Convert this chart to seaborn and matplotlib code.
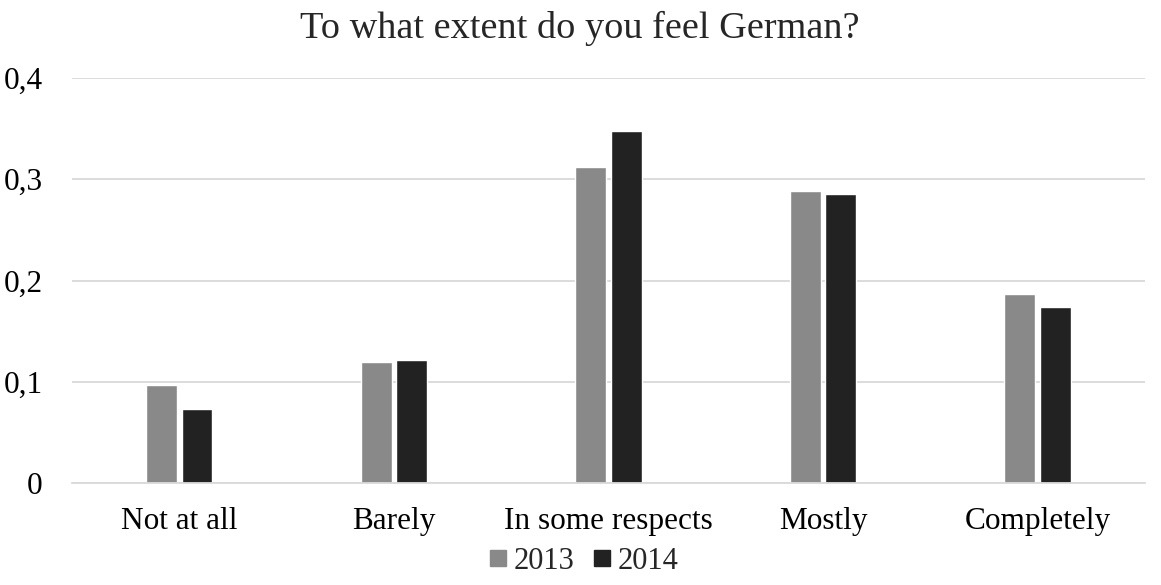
import matplotlib
matplotlib.use("Agg")
import matplotlib.pyplot as plt
import pandas as pd
import seaborn as sns

# data
categories = ["Not at all", "Barely", "In some respects", "Mostly", "Completely"]
years = ["2013", "2014"]
values_2013 = [0.0967, 0.1196, 0.312, 0.288, 0.1866]
values_2014 = [0.0733, 0.1217, 0.3478, 0.2853, 0.174]
yticks = [0, 0.1, 0.2, 0.3, 0.4]
ytick_labels = ["0", "0,1", "0,2", "0,3", "0,4"]

df = pd.DataFrame({
    "category": categories * 2,
    "year": [years[0]] * 5 + [years[1]] * 5,
    "value": values_2013 + values_2014,
})

sns.set_style("white")
plt.rcParams["font.family"] = ["Liberation Serif", "DejaVu Serif"]

fig = plt.figure(figsize=(11.61, 5.85), dpi=100)
ax = fig.add_axes([0.062, 0.174, 0.924, 0.693])

sns.barplot(data=df, x="category", y="value", hue="year",
            palette=["#898989", "#222222"], width=0.33, gap=0.127,
            order=categories, hue_order=years, ax=ax, legend=False)

ax.set_xlim(-0.5, 4.5)
ax.set_ylim(0, 0.4)
ax.set_yticks(yticks)
ax.set_yticklabels(ytick_labels)
ax.yaxis.grid(True, color="#d9d9d9", linewidth=1.3)
ax.set_axisbelow(True)
for s in ["top", "right", "left"]:
    ax.spines[s].set_visible(False)
ax.spines["bottom"].set_color("#d9d9d9")
ax.spines["bottom"].set_linewidth(1.3)

ax.tick_params(axis="both", which="major", length=0, labelsize=22.5, colors="black")
ax.tick_params(axis="x", pad=17)
ax.tick_params(axis="y", pad=21)
ax.set_xticks([-0.5, 0.5, 1.5, 2.5, 3.5, 4.5], minor=True)
ax.tick_params(axis="x", which="minor", direction="in", length=7, width=1.3, color="#d9d9d9")
ax.set_xlabel("")
ax.set_ylabel("")

# title is centred on the figure, not on the plot area
ax.set_title("To what extent do you feel German?", fontsize=27.5, pad=29, x=0.473)

handles = [plt.Line2D([], [], marker="s", linestyle="", markersize=12, color=c)
           for c in ["#898989", "#222222"]]
fig.legend(handles, years, loc="center", bbox_to_anchor=(0.5, 0.04), ncol=2,
           frameon=False, fontsize=22, handletextpad=0.0, columnspacing=0.4,
           handlelength=1.0)

fig.savefig("out.png", dpi=100)
